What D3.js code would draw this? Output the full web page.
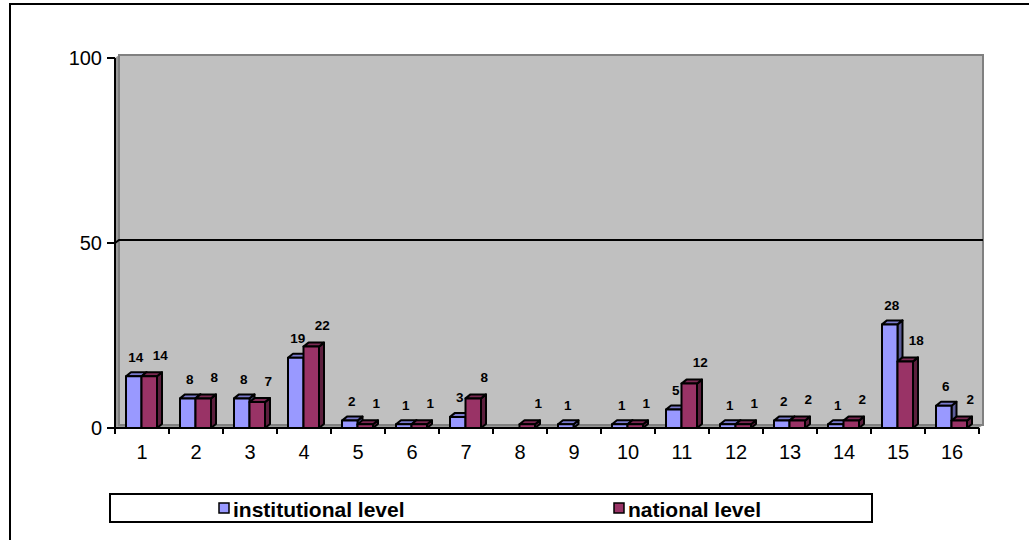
<!DOCTYPE html>
<html>
<head>
<meta charset="utf-8">
<script src="https://cdn.jsdelivr.net/npm/d3@7/dist/d3.min.js"></script>
<style>
  body { margin: 0; background: #fff; }
  svg { display: block; }
  text { font-family: "Liberation Sans", Arial, sans-serif; }
</style>
</head>
<body>
<svg id="chart" width="1029" height="540"></svg>
<script>
// Category labels along the horizontal axis
const categories = ["1", "2", "3", "4", "5", "6", "7", "8", "9", "10", "11", "12", "13", "14", "15", "16"];
// Series values (null = no value reported)
const institutional = [14, 8, 8, 19, 2, 1, 3, null, 1, 1, 5, 1, 2, 1, 28, 6];
const national = [14, 8, 7, 22, 1, 1, 8, 1, null, 1, 12, 1, 2, 2, 18, 2];
const seriesNames = ["institutional level", "national level"];
const yTicks = [0, 50, 100];

const svg = d3.select("#chart");

// Front plane geometry
const x0 = d3.scaleBand().domain(categories).range([115, 979]).paddingInner(0).paddingOuter(0);
const x1 = d3.scaleBand().domain(seriesNames).range([11, 42]);
const y = d3.scaleLinear().domain([0, 100]).range([428, 58]);

// Depth offsets for the pseudo-3D look
const wallDx = 4, wallDy = 3;
const barDx = 5, barDy = 4;

const styles = {
  "institutional level": { front: "#9999FF", top: "#7A7ACC", side: "#5C5C99" },
  "national level": { front: "#993366", top: "#7A2952", side: "#5C1F3D" }
};

// Outer frame
svg.append("rect")
  .attr("x", 10).attr("y", 4).attr("width", 1040).attr("height", 560)
  .attr("fill", "#fff").attr("stroke", "#000").attr("stroke-width", 2);

const [xl, xr] = x0.range();
const [yb, yt] = y.range();

// Side wall and floor
svg.append("polygon")
  .attr("points", [[xl, yt], [xl + wallDx, yt - wallDy], [xl + wallDx, yb - wallDy], [xl, yb]].join(" "))
  .attr("fill", "#9a9a9a");
svg.append("polygon")
  .attr("points", [[xl, yb], [xl + wallDx, yb - wallDy], [xr + wallDx, yb - wallDy], [xr, yb]].join(" "))
  .attr("fill", "#9a9a9a");

// Back wall
svg.append("rect")
  .attr("x", xl + wallDx).attr("y", yt - wallDy)
  .attr("width", xr - xl).attr("height", yb - yt)
  .attr("fill", "#C0C0C0").attr("stroke", "#808080").attr("stroke-width", 2);

// Gridline at 50 on the back wall
yTicks.filter(t => t > 0 && t < 100).forEach(t => {
  svg.append("polyline")
    .attr("points", [[xl, y(t)], [xl + wallDx, y(t) - wallDy], [xr + wallDx, y(t) - wallDy]].join(" "))
    .attr("fill", "none").attr("stroke", "#000").attr("stroke-width", 2);
});

// Bars
const rows = categories.map((c, i) => ({ cat: c, vals: [institutional[i], national[i]] }));
const barsG = svg.append("g");
rows.forEach(r => {
  r.vals.forEach((v, si) => {
    if (v === null) return;
    const s = seriesNames[si];
    const st = styles[s];
    const bx = x0(r.cat) + x1(s);
    const bw = x1.bandwidth();
    const by = y(v);
    const b0 = y(0);
    const g = barsG.append("g").attr("stroke", "#000").attr("stroke-width", 2).attr("stroke-linejoin", "round");
    g.append("polygon")
      .attr("points", [[bx + bw, by], [bx + bw + barDx, by - barDy], [bx + bw + barDx, b0 - barDy], [bx + bw, b0]].join(" "))
      .attr("fill", st.side);
    g.append("polygon")
      .attr("points", [[bx, by], [bx + barDx, by - barDy], [bx + bw + barDx, by - barDy], [bx + bw, by]].join(" "))
      .attr("fill", st.top);
    g.append("rect")
      .attr("x", bx).attr("y", by).attr("width", bw).attr("height", b0 - by)
      .attr("fill", st.front);
  });
});

// Value labels
const labelOffsets = [{ dx: 2, dy: -19 }, { dx: 11, dy: -21 }];
rows.forEach(r => {
  r.vals.forEach((v, si) => {
    if (v === null) return;
    const s = seriesNames[si];
    svg.append("text")
      .attr("x", x0(r.cat) + x1(s) + x1.bandwidth() / 2 + labelOffsets[si].dx)
      .attr("y", y(v) + labelOffsets[si].dy)
      .attr("text-anchor", "middle").attr("dominant-baseline", "central")
      .attr("font-size", 13.5).attr("font-weight", "bold").attr("fill", "#000")
      .text(v);
  });
});

// Value axis
svg.append("line")
  .attr("x1", xl).attr("x2", xl).attr("y1", yb).attr("y2", yt)
  .attr("stroke", "#000").attr("stroke-width", 2);
yTicks.forEach(t => {
  svg.append("line")
    .attr("x1", xl - 8).attr("x2", xl).attr("y1", y(t)).attr("y2", y(t))
    .attr("stroke", "#000").attr("stroke-width", 2);
  svg.append("text")
    .attr("x", xl - 13).attr("y", y(t))
    .attr("text-anchor", "end").attr("dominant-baseline", "central")
    .attr("font-size", 20).attr("fill", "#000")
    .text(t);
});

// Category axis
svg.append("line")
  .attr("x1", xl).attr("x2", xr).attr("y1", yb).attr("y2", yb)
  .attr("stroke", "#000").attr("stroke-width", 2);
const bounds = categories.map(c => x0(c)).concat([xr]);
bounds.forEach(bx => {
  svg.append("line")
    .attr("x1", bx).attr("x2", bx).attr("y1", yb).attr("y2", yb + 6)
    .attr("stroke", "#000").attr("stroke-width", 2);
});
categories.forEach(c => {
  svg.append("text")
    .attr("x", x0(c) + x0.bandwidth() / 2).attr("y", yb + 24)
    .attr("text-anchor", "middle").attr("dominant-baseline", "central")
    .attr("font-size", 20).attr("fill", "#000")
    .text(c);
});

// Legend
const legend = svg.append("g");
legend.append("rect")
  .attr("x", 110).attr("y", 494).attr("width", 762).attr("height", 28)
  .attr("fill", "#fff").attr("stroke", "#000").attr("stroke-width", 2);
const legendX = [219, 614];
seriesNames.forEach((s, i) => {
  legend.append("rect")
    .attr("x", legendX[i]).attr("y", 503).attr("width", 10).attr("height", 10)
    .attr("fill", styles[s].front).attr("stroke", "#000").attr("stroke-width", 1.5);
  legend.append("text")
    .attr("x", legendX[i] + 14).attr("y", 509)
    .attr("dominant-baseline", "central")
    .attr("font-size", 21).attr("font-weight", "bold").attr("fill", "#000")
    .text(s);
});
</script>
</body>
</html>
